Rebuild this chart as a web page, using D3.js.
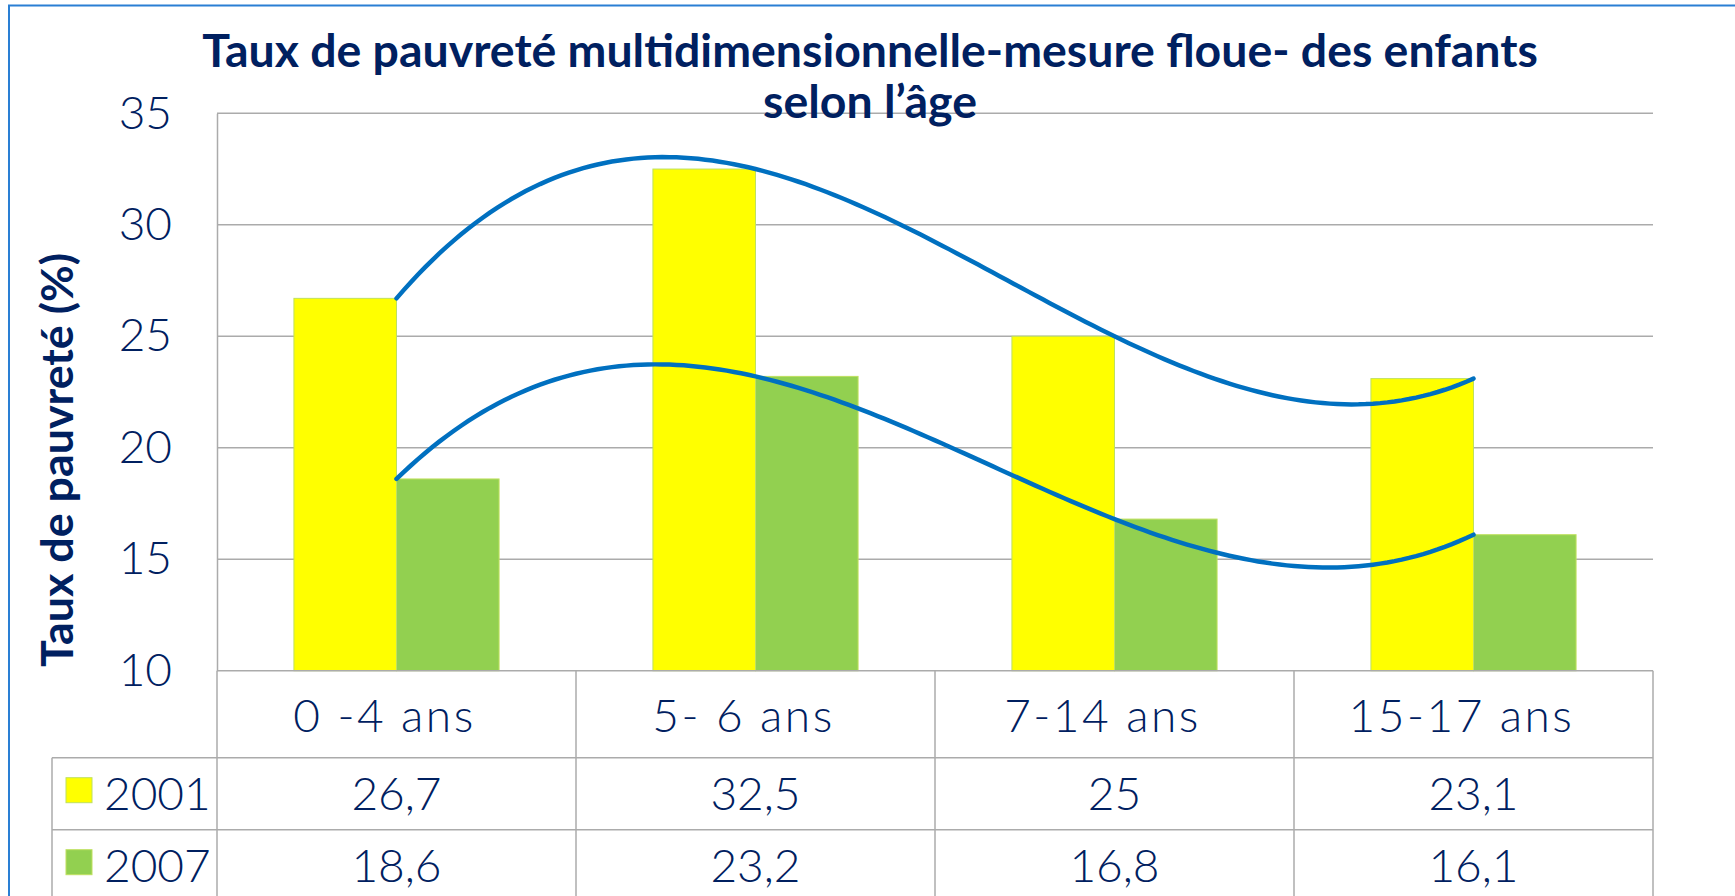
<!DOCTYPE html>
<html>
<head>
	<meta charset="UTF-8">
	<title>Taux de pauvreté multidimensionnelle des enfants selon l'âge</title>
	<script src="https://cdnjs.cloudflare.com/ajax/libs/d3/7.8.5/d3.min.js"></script>
	<style>
		body { margin: 0; background: #fff; }
		svg text { font-family: Lato, "Open Sans", sans-serif; fill: #002060; }
	</style>
</head>
<body>
	<script>
		// data
		var categories = ["0 -4 ans", "5- 6 ans", "7-14 ans", "15-17 ans"];
		var seriesNames = ["2001", "2007"];
		var values2001 = [26.7, 32.5, 25, 23.1];
		var values2007 = [18.6, 23.2, 16.8, 16.1];
		var valueLabels2001 = ["26,7", "32,5", "25", "23,1"];
		var valueLabels2007 = ["18,6", "23,2", "16,8", "16,1"];
		var yTicks = [10, 15, 20, 25, 30, 35];
		var colors = {"2001": "#ffff00", "2007": "#92d050"};

		var W = 1735, H = 896;
		var plot = {left: 217, right: 1653, top: 113.3, bottom: 670.7};
		var tableLeft = 52, rowH = [87, 72, 72];

		var svg = d3.select("body").append("svg")
		    .attr("width", W)
		    .attr("height", H);

		// scales
		var x = d3.scaleBand().domain(categories).range([plot.left, plot.right]).padding(0);
		var xs = d3.scaleBand().domain(seriesNames).range([0, x.bandwidth()])
		    .paddingInner(0).paddingOuter(0.75);
		var y = d3.scaleLinear().domain([10, 35]).range([plot.bottom, plot.top]);

		// outer frame (top + left only visible)
		svg.append("path")
		    .attr("d", "M9,896 V5.5 H1735")
		    .attr("fill", "none")
		    .attr("stroke", "#2a7fd4")
		    .attr("stroke-width", 2);

		// gridlines
		svg.append("g")
		    .selectAll("line")
		    .data(yTicks.filter(function(d) { return d > 10; }))
		    .enter().append("line")
		    .attr("x1", plot.left).attr("x2", plot.right)
		    .attr("y1", function(d) { return y(d); })
		    .attr("y2", function(d) { return y(d); })
		    .attr("stroke", "#ababab")
		    .attr("stroke-width", 1.5);

		// y axis
		var yAxis = svg.append("g")
		    .attr("transform", "translate(" + plot.left + ",0)")
		    .call(d3.axisLeft(y).tickValues(yTicks).tickSize(0).tickPadding(45));
		yAxis.select(".domain").attr("stroke", "#ababab").attr("stroke-width", 1.5);
		yAxis.selectAll("text")
		    .attr("fill", "#002060")
		    .style("font-size", "46px")
		    .style("font-weight", 300);

		// bars
		var series = [values2001, values2007];
		svg.append("g")
		    .selectAll("g")
		    .data(seriesNames)
		    .enter().append("g")
		    .attr("fill", function(s) { return colors[s]; })
		    .selectAll("rect")
		    .data(function(s, i) { return series[i].map(function(v, j) { return {s: s, c: categories[j], v: v}; }); })
		    .enter().append("rect")
		    .attr("x", function(d) { return x(d.c) + xs(d.s); })
		    .attr("width", xs.bandwidth())
		    .attr("y", function(d) { return y(d.v); })
		    .attr("height", function(d) { return y(10) - y(d.v); })
		    .attr("stroke", "#bfe05f")
		    .attr("stroke-width", 1);

		// polynomial trendlines (order 3) at category centres
		var xc = d3.scaleLinear().domain([0, categories.length - 1])
		    .range([x(categories[0]) + x.bandwidth() / 2, x(categories[categories.length - 1]) + x.bandwidth() / 2]);

		function poly(vals) {
		    var n = vals.length;
		    return function(t) {
		        var s = 0;
		        for (var i = 0; i < n; i++) {
		            var l = 1;
		            for (var j = 0; j < n; j++) if (j != i) l *= (t - j) / (i - j);
		            s += vals[i] * l;
		        }
		        return s;
		    };
		}
		var line = d3.line()
		    .x(function(d) { return xc(d[0]); })
		    .y(function(d) { return y(d[1]); });

		series.forEach(function(vals) {
		    var f = poly(vals);
		    var pts = d3.range(0, 3.0001, 0.02).map(function(t) { return [t, f(t)]; });
		    svg.append("path")
		        .datum(pts)
		        .attr("d", line)
		        .attr("fill", "none")
		        .attr("stroke", "#0070c0")
		        .attr("stroke-width", 4.5)
		        .attr("stroke-linecap", "round");
		});

		// data table
		var r0 = plot.bottom, r1 = r0 + rowH[0], r2 = r1 + rowH[1], r3 = r2 + rowH[2];
		var tbl = svg.append("g").attr("stroke", "#ababab").attr("stroke-width", 1.5);
		tbl.append("line").attr("x1", plot.left).attr("x2", plot.right).attr("y1", r0).attr("y2", r0);
		[r1, r2, r3].forEach(function(r) {
		    tbl.append("line").attr("x1", tableLeft).attr("x2", plot.right).attr("y1", r).attr("y2", r);
		});
		tbl.append("line").attr("x1", tableLeft).attr("x2", tableLeft).attr("y1", r1).attr("y2", r3);
		tbl.selectAll("line.col")
		    .data(categories.concat(["end"]))
		    .enter().append("line")
		    .attr("class", "col")
		    .attr("x1", function(d, i) { return plot.left + i * x.bandwidth(); })
		    .attr("x2", function(d, i) { return plot.left + i * x.bandwidth(); })
		    .attr("y1", r0).attr("y2", r3);

		// category labels
		svg.append("g")
		    .selectAll("text")
		    .data(categories)
		    .enter().append("text")
		    .attr("x", function(d) { return x(d) + x.bandwidth() / 2 - 12; })
		    .attr("y", r0 + 61)
		    .attr("text-anchor", "middle")
		    .style("font-size", "46px")
		    .style("font-weight", 300)
		    .style("letter-spacing", "2.5px")
		    .text(function(d) { return d; });

		// value rows
		var rowLabels = [valueLabels2001, valueLabels2007];
		var rowBase = [r1 + 52, r2 + 52];
		seriesNames.forEach(function(s, i) {
		    var g = svg.append("g");
		    g.append("rect")
		        .attr("x", 66).attr("y", rowBase[i] - 32)
		        .attr("width", 26).attr("height", 25)
		        .attr("fill", colors[s])
		        .attr("stroke", "#bfe05f");
		    g.append("text")
		        .attr("x", 104).attr("y", rowBase[i])
		        .style("font-size", "46px")
		        .style("font-weight", 300)
		        .text(s);
		    g.selectAll("text.v")
		        .data(rowLabels[i])
		        .enter().append("text")
		        .attr("class", "v")
		        .attr("x", function(d, j) { return x(categories[j]) + x.bandwidth() / 2; })
		        .attr("y", rowBase[i])
		        .attr("text-anchor", "middle")
		        .style("font-size", "46px")
		        .style("font-weight", 300)
		        .text(function(d) { return d; });
		});

		// titles
		function fit(sel, target) {
		    var w = sel.node().getComputedTextLength();
		    var fs = parseFloat(sel.style("font-size"));
		    sel.style("font-size", (fs * target / w) + "px");
		}
		var t1 = svg.append("text")
		    .attr("x", 870).attr("y", 67)
		    .attr("text-anchor", "middle")
		    .style("font-size", "36px")
		    .style("font-weight", 700)
		    .text("Taux de pauvreté multidimensionnelle-mesure floue- des enfants");
		fit(t1, 1336);
		svg.append("text")
		    .attr("x", 870).attr("y", 118)
		    .attr("text-anchor", "middle")
		    .style("font-size", t1.style("font-size"))
		    .style("font-weight", 700)
		    .text("selon l’âge");

		var yt = svg.append("text")
		    .attr("transform", "translate(73,460) rotate(-90)")
		    .attr("text-anchor", "middle")
		    .style("font-size", "34px")
		    .style("font-weight", 700)
		    .text("Taux de pauvreté (%)");
		fit(yt, 414);
	</script>
</body>
</html>
